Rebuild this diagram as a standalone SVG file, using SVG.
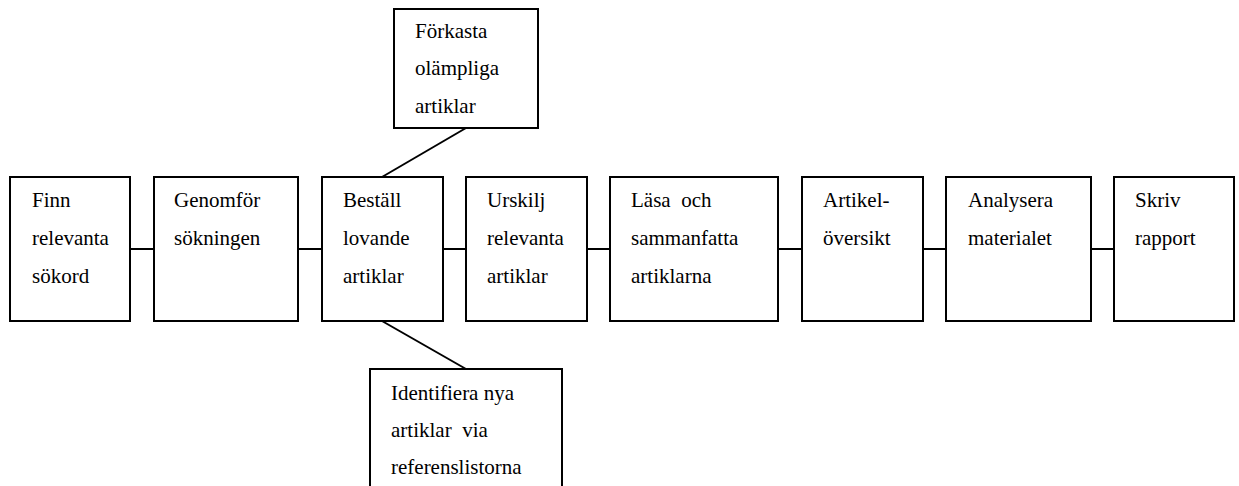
<svg xmlns="http://www.w3.org/2000/svg" width="1239" height="486" viewBox="0 0 1239 486">
<style>
.box{fill:#fff;stroke:#000;stroke-width:2}
.ln{stroke:#000;stroke-width:2;fill:none}
.t{font-family:'Liberation Serif','Times New Roman',serif;font-size:21px;fill:#000;white-space:pre}
</style>
<rect width="1239" height="486" fill="#fff"/>
<g id="connectors">
<line class="ln" x1="130" y1="249" x2="154" y2="249"/>
<line class="ln" x1="298" y1="249" x2="322" y2="249"/>
<line class="ln" x1="443" y1="249" x2="466" y2="249"/>
<line class="ln" x1="587" y1="249" x2="610" y2="249"/>
<line class="ln" x1="778" y1="249" x2="802" y2="249"/>
<line class="ln" x1="923" y1="249" x2="946" y2="249"/>
<line class="ln" x1="1091" y1="249" x2="1114" y2="249"/>
<line class="ln" x1="466" y1="128" x2="382" y2="177"/>
<line class="ln" x1="382" y1="321" x2="466" y2="369"/>
</g>
<g id="n1"><rect class="box" x="10" y="177" width="120" height="144"/>
<text class="t" x="32" y="207">Finn</text><text class="t" x="32" y="245">relevanta</text><text class="t" x="32" y="283">sökord</text></g>
<g id="n2"><rect class="box" x="154" y="177" width="144" height="144"/>
<text class="t" x="174" y="207">Genomför</text><text class="t" x="174" y="245">sökningen</text></g>
<g id="n3"><rect class="box" x="322" y="177" width="121" height="144"/>
<text class="t" x="343" y="207">Beställ</text><text class="t" x="343" y="245">lovande</text><text class="t" x="343" y="283">artiklar</text></g>
<g id="n4"><rect class="box" x="466" y="177" width="121" height="144"/>
<text class="t" x="487" y="207">Urskilj</text><text class="t" x="487" y="245">relevanta</text><text class="t" x="487" y="283">artiklar</text></g>
<g id="n5"><rect class="box" x="610" y="177" width="168" height="144"/>
<text class="t" x="631" y="207">Läsa  och</text><text class="t" x="631" y="245">sammanfatta</text><text class="t" x="631" y="283">artiklarna</text></g>
<g id="n6"><rect class="box" x="802" y="177" width="121" height="144"/>
<text class="t" x="823" y="207">Artikel-</text><text class="t" x="823" y="245">översikt</text></g>
<g id="n7"><rect class="box" x="946" y="177" width="145" height="144"/>
<text class="t" x="968" y="207">Analysera</text><text class="t" x="968" y="245">materialet</text></g>
<g id="n8"><rect class="box" x="1114" y="177" width="120" height="144"/>
<text class="t" x="1135" y="207">Skriv</text><text class="t" x="1135" y="245">rapport</text></g>
<g id="n9"><rect class="box" x="394" y="9" width="144" height="119"/>
<text class="t" x="415" y="38">Förkasta</text><text class="t" x="415" y="75">olämpliga</text><text class="t" x="415" y="113">artiklar</text></g>
<g id="n10"><rect class="box" x="370" y="369" width="192" height="130"/>
<text class="t" x="391" y="400">Identifiera nya</text><text class="t" x="391" y="437">artiklar  via</text><text class="t" x="391" y="474">referenslistorna</text></g>
</svg>
